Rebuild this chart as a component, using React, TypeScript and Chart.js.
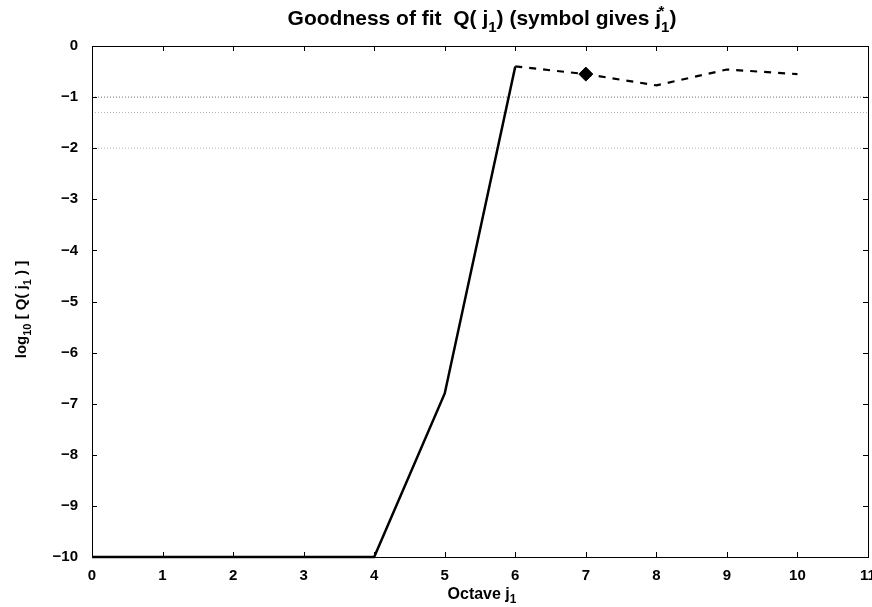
import React, { useEffect, useRef } from "react";
import { Chart, registerables } from "chart.js";
Chart.register(...registerables);

const octavesSolid = [0, 1, 2, 3, 4, 5, 6];
const logQSolid = [-10, -10, -10, -10, -10, -6.8, -0.4];
const octavesDashed = [6, 7, 8, 9, 10];
const logQDashed = [-0.4, -0.55, -0.77, -0.46, -0.55];
const chosenOctave = [7];
const chosenLogQ = [-0.55];
const refLevels = [-1, -1.301, -2];
const refColors = ["#6f6f6f", "#b5b5b5", "#b5b5b5"];
const xRange = [0, 11];
const yRange = [-10, 0];

const FONT = '"Liberation Sans", Arial, Helvetica, sans-serif';

type Part = { t: string; sub?: string; sup?: string };

function drawRich(ctx: CanvasRenderingContext2D, parts: Part[], cx: number, cy: number, size: number) {
  const base = `bold ${size}px ${FONT}`;
  const small = `bold ${Math.round(size * 0.72)}px ${FONT}`;
  const widths = parts.map((p) => {
    ctx.font = base;
    let w = ctx.measureText(p.t).width;
    ctx.font = small;
    let s = 0;
    if (p.sub) s = Math.max(s, ctx.measureText(p.sub).width);
    if (p.sup) s = Math.max(s, ctx.measureText(p.sup).width);
    return w + s;
  });
  const total = widths.reduce((a, b) => a + b, 0);
  let x = cx - total / 2;
  ctx.textBaseline = "alphabetic";
  ctx.textAlign = "left";
  ctx.fillStyle = "#000";
  const baseY = cy + size * 0.35;
  parts.forEach((p, i) => {
    ctx.font = base;
    ctx.fillText(p.t, x, baseY);
    const w = ctx.measureText(p.t).width;
    ctx.font = small;
    if (p.sub) ctx.fillText(p.sub, x + w, baseY + size * 0.3);
    if (p.sup) ctx.fillText(p.sup, x + w - size * 0.12, baseY - size * 0.45);
    x += widths[i];
  });
}

const framePlugin = {
  id: "frame",
  afterDatasetsDraw(chart: any) {
    const { ctx, chartArea: a, scales } = chart;
    const xs = scales.x;
    const ys = scales.y;
    ctx.save();
    ctx.strokeStyle = "#000";
    ctx.lineWidth = 1;
    ctx.strokeRect(Math.round(a.left) + 0.5, Math.round(a.top) + 0.5, Math.round(a.right - a.left), Math.round(a.bottom - a.top));
    const L = 5;
    ctx.beginPath();
    xs.ticks.forEach((t: any) => {
      const px = Math.round(xs.getPixelForValue(t.value)) + 0.5;
      ctx.moveTo(px, a.bottom);
      ctx.lineTo(px, a.bottom - L);
      ctx.moveTo(px, a.top);
      ctx.lineTo(px, a.top + L);
    });
    ys.ticks.forEach((t: any) => {
      const py = Math.round(ys.getPixelForValue(t.value)) + 0.5;
      ctx.moveTo(a.left, py);
      ctx.lineTo(a.left + L, py);
      ctx.moveTo(a.right, py);
      ctx.lineTo(a.right - L, py);
    });
    ctx.stroke();
    ctx.restore();
  },
  afterDraw(chart: any) {
    const { ctx, chartArea: a } = chart;
    const cx = (a.left + a.right) / 2;
    ctx.save();
    drawRich(
      ctx,
      [
        { t: "Goodness of fit  Q( j", sub: "1" },
        { t: ") (symbol gives j", sub: "1", sup: "*" },
        { t: ")" },
      ],
      cx + 2,
      18,
      21
    );
    drawRich(ctx, [{ t: "Octave j", sub: "1" }], cx + 2, 593, 16);
    ctx.translate(21, (a.top + a.bottom) / 2 + 8);
    ctx.rotate(-Math.PI / 2);
    drawRich(
      ctx,
      [{ t: "log", sub: "10" }, { t: " [ Q( j", sub: "1" }, { t: " ) ]" }],
      0,
      0,
      15
    );
    ctx.restore();
  },
};

export default function App() {
  const ref = useRef<HTMLCanvasElement>(null);
  useEffect(() => {
    document.body.style.margin = "0";
    const refSets = refLevels.map((lv, i) => ({
      type: "line" as const,
      data: [
        { x: xRange[0], y: lv },
        { x: xRange[1], y: lv },
      ],
      borderColor: refColors[i],
      borderWidth: 1,
      borderDash: [1, 2],
      pointRadius: 0,
      order: 10,
    }));
    const chart = new Chart(ref.current!, {
      type: "line",
      data: {
        datasets: [
          {
            data: octavesSolid.map((x, i) => ({ x, y: logQSolid[i] })),
            borderColor: "#000",
            borderWidth: 2.5,
            pointRadius: 0,
            clip: 5,
            order: 2,
          },
          {
            data: octavesDashed.map((x, i) => ({ x, y: logQDashed[i] })),
            borderColor: "#000",
            borderWidth: 2.2,
            borderDash: [7, 7],
            pointRadius: 0,
            clip: 5,
            order: 2,
          },
          {
            data: chosenOctave.map((x, i) => ({ x, y: chosenLogQ[i] })),
            showLine: false,
            pointStyle: "rectRot",
            pointRadius: 7,
            pointHoverRadius: 7,
            pointBackgroundColor: "#000",
            pointBorderColor: "#000",
            order: 1,
          },
          ...refSets,
        ] as any,
      },
      options: {
        animation: false,
        responsive: false,
        devicePixelRatio: 1,
        layout: { autoPadding: false, padding: { top: 46, right: 4, left: 0, bottom: 0 } },
        plugins: { legend: { display: false }, tooltip: { enabled: false }, title: { display: false } },
        scales: {
          x: {
            type: "linear",
            min: xRange[0],
            max: xRange[1],
            ticks: { stepSize: 1, color: "#000", font: { family: FONT, size: 15, weight: "bold" }, padding: 2, maxRotation: 0 },
            grid: { display: false },
            border: { display: false },
            afterFit: (s: any) => {
              s.height = 50;
              s.paddingLeft = 0;
              s.paddingRight = 0;
            },
          },
          y: {
            type: "linear",
            min: yRange[0],
            max: yRange[1],
            ticks: {
              stepSize: 1,
              color: "#000",
              font: { family: FONT, size: 15, weight: "bold" },
              padding: 6,
              callback: (v: any) => (v < 0 ? "\u2212" + Math.abs(v) : String(v)),
            },
            grid: { display: false },
            border: { display: false },
            afterFit: (s: any) => {
              s.width = 92;
              s.paddingTop = 0;
              s.paddingBottom = 0;
            },
          },
        },
      } as any,
      plugins: [framePlugin],
    });
    return () => chart.destroy();
  }, []);
  return (
    <div style={{ position: "absolute", left: 0, top: 0, width: 872, height: 607 }}>
      <canvas ref={ref} width={872} height={607} style={{ display: "block" }} />
    </div>
  );
}
